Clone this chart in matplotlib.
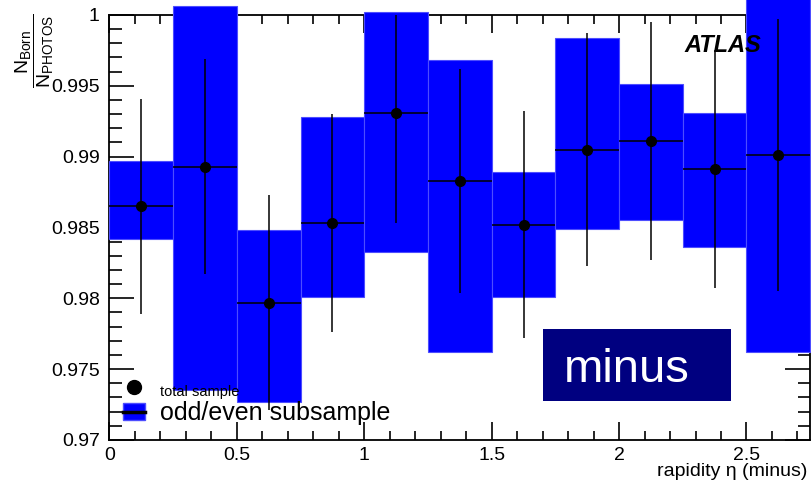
import matplotlib
matplotlib.use("Agg")
import matplotlib.pyplot as plt
from matplotlib.lines import Line2D
from matplotlib.patches import Patch, Rectangle

plt.rcParams['font.family'] = ['Liberation Sans', 'DejaVu Sans']
plt.rcParams['mathtext.fontset'] = 'custom'
plt.rcParams['mathtext.rm'] = 'Liberation Sans'
plt.rcParams['mathtext.it'] = 'Liberation Sans:italic'

# rapidity bins (lower edges), width 0.25
bin_lo = [0.0, 0.25, 0.5, 0.75, 1.0, 1.25, 1.5, 1.75, 2.0, 2.25, 2.5]
bin_w = 0.25

# total sample ratio and its error
total = [0.9865, 0.9893, 0.9797, 0.9853, 0.9931, 0.9883,
         0.9852, 0.9905, 0.9911, 0.9891, 0.9901]
total_err = [0.0076, 0.0076, 0.0076, 0.0077, 0.0078, 0.0079,
             0.0080, 0.0082, 0.0084, 0.0084, 0.0096]

# odd/even subsample band (low / high edge)
sub_lo = [0.9842, 0.9735, 0.9727, 0.9801, 0.9833, 0.9762,
          0.9801, 0.9849, 0.9855, 0.9836, 0.9762]
sub_hi = [0.9897, 1.0006, 0.9848, 0.9928, 1.0002, 0.9968,
          0.9889, 0.9984, 0.9951, 0.9931, 1.0040]

centers = [x + bin_w / 2 for x in bin_lo]
heights = [h - l for h, l in zip(sub_hi, sub_lo)]

fig = plt.figure(figsize=(8.11, 4.88), dpi=100)
ax = fig.add_axes([0.135, 0.0984, 0.864, 0.8709])

ax.bar(centers, heights, bottom=sub_lo, width=bin_w, color='#0000ff',
       edgecolor='#4d4dff', linewidth=0.8, clip_on=False, zorder=3)
ax.errorbar(centers, total, yerr=total_err, xerr=bin_w / 2, fmt='o',
            color='black', ms=7, elinewidth=1.1, capsize=0, zorder=4)

ax.set_xlim(0, 2.75)
ax.set_ylim(0.97, 1.0)
ax.set_xticks([0, 0.5, 1, 1.5, 2, 2.5])
ax.set_xticklabels(['0', '0.5', '1', '1.5', '2', '2.5'])
ax.set_xticks([i / 10 for i in range(28)], minor=True)
ax.set_yticks([0.97, 0.975, 0.98, 0.985, 0.99, 0.995, 1.0])
ax.set_yticklabels(['0.97', '0.975', '0.98', '0.985', '0.99', '0.995', '1'])
ax.set_yticks([0.97 + i * 0.001 for i in range(31)], minor=True)

ax.tick_params(which='both', direction='in', top=True, right=True,
               labelsize=14, width=1.2)
ax.tick_params(axis='y', which='major', length=18, pad=7)
ax.tick_params(axis='y', which='minor', length=9)
ax.tick_params(axis='x', which='major', length=13, pad=5)
ax.tick_params(axis='x', which='minor', length=6.5)
for s in ax.spines.values():
    s.set_linewidth(1.3)

ax.set_xlabel('rapidity η (minus)', fontsize=14, loc='right')
ax.xaxis.set_label_coords(0.996, -0.055)
fig.text(0.043, 0.972, r'$\dfrac{\mathrm{N}_{\mathrm{Born}}}{\mathrm{N}_{\mathrm{PHOTOS}}}$',
         rotation=90, ha='center', va='top', fontsize=14)

ax.text(0.82, 0.912, 'ATLAS', transform=ax.transAxes, fontsize=17,
        fontweight='bold', fontstyle='italic', zorder=5)

# channel tag
ax.add_patch(Rectangle((0.618, 0.092), 0.269, 0.169, transform=ax.transAxes,
                       facecolor='#000080', edgecolor='none', zorder=5))
ax.text(0.648, 0.1365, 'minus', transform=ax.transAxes, fontsize=34,
        color='white', va='baseline', zorder=6)

handles = [Line2D([], [], marker='o', ls='', color='black', ms=10),
           (Patch(facecolor='#0000ff', edgecolor='#4d4dff'),
            Line2D([], [], color='black', lw=2.5))]
leg = ax.legend(handles, ['total sample', 'odd/even subsample'],
                loc='lower left', bbox_to_anchor=(0.02, 0.035),
                frameon=False, fontsize=18, borderpad=0, borderaxespad=0,
                handlelength=0.85, handleheight=0.65, handletextpad=0.6,
                labelspacing=0.1)
leg.get_texts()[0].set_fontsize(10.5)
leg.set_zorder(5)

fig.savefig('out.png', dpi=100)
